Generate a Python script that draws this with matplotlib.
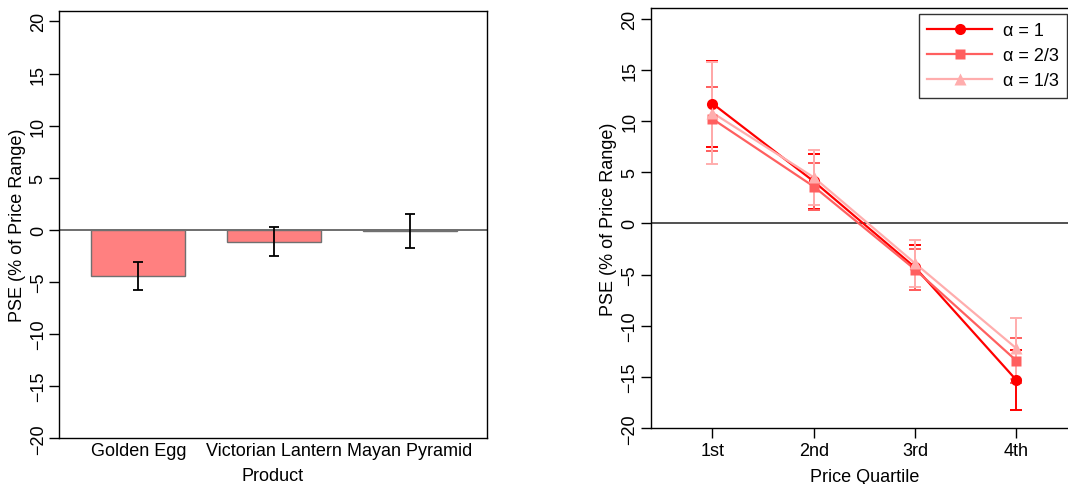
import matplotlib
matplotlib.use("Agg")
import matplotlib.pyplot as plt
import numpy as np

plt.rcParams['font.family'] = ['Liberation Sans', 'DejaVu Sans']
plt.rcParams['font.size'] = 13

# ---- data ----
products = ["Golden Egg", "Victorian Lantern", "Mayan Pyramid"]
product_pse = [-4.4, -1.15, -0.12]
product_err = [1.35, 1.38, 1.65]

quartiles = ["1st", "2nd", "3rd", "4th"]
pse_a1 = [11.7, 4.1, -4.3, -15.3]
err_a1 = [4.2, 2.7, 2.2, 2.9]
pse_a23 = [10.2, 3.6, -4.5, -13.4]
err_a23 = [3.1, 2.3, 2.0, 2.2]
pse_a13 = [10.8, 4.5, -3.9, -12.2]
err_a13 = [5.0, 2.7, 2.3, 2.95]
series_labels = ["\u03b1 = 1", "\u03b1 = 2/3", "\u03b1 = 1/3"]
series_colors = ["#FF0000", "#FF5F5F", "#FFADAD"]
series_markers = ["o", "s", "^"]
series_msize = [8, 7.5, 9]

W, H = 1068, 485
fig = plt.figure(figsize=(W/100, H/100), dpi=100)

def fr(x0, y0, x1, y1):
    return [x0/W, 1 - y1/H, (x1-x0)/W, (y1-y0)/H]

ylabels = [str(v).replace('-', '\u2212') for v in range(-20, 21, 5)]

# ---- left: bar chart ----
ax1 = fig.add_axes(fr(59.3, 12, 486.7, 439.3))
xpos = np.arange(len(products))
ax1.axhline(0, color="#555555", lw=1.2, zorder=1)
ax1.bar(xpos, product_pse, width=0.693, color="#FF8080", edgecolor="#707070",
        linewidth=1.0, zorder=2)
ax1.errorbar(xpos, product_pse, yerr=product_err, fmt="none", ecolor="black",
             elinewidth=1.3, capsize=3.6, capthick=1.3, zorder=3)
ax1.set_xlim(-0.583, 2.569)
ax1.set_ylim(-20, 21)
ax1.set_yticks(np.arange(-20, 21, 5))
ax1.set_yticklabels(ylabels, rotation=90, va="center")
ax1.set_xticks(xpos)
ax1.set_xticklabels(products)
ax1.tick_params(axis="x", length=0, pad=3)
ax1.tick_params(axis="y", length=7, width=1, pad=2)
ax1.set_xlabel("Product", labelpad=5.5)
ax1.set_ylabel("PSE (% of Price Range)", labelpad=3)
for s in ax1.spines.values():
    s.set_linewidth(1.0)

# ---- right: line chart ----
ax2 = fig.add_axes(fr(650.7, 9.3, 1078.2, 429.3))
ax2.axhline(0, color="#333333", lw=1.2, zorder=1)
xq = np.arange(1, len(quartiles) + 1)
series_vals = [pse_a1, pse_a23, pse_a13]
series_errs = [err_a1, err_a23, err_a13]
handles = []
for i, (vals, errs, lab, col, mk, ms) in enumerate(zip(series_vals, series_errs,
        series_labels, series_colors, series_markers, series_msize)):
    ax2.errorbar(xq, vals, yerr=errs, fmt="none", ecolor=col, elinewidth=1.4,
                 capsize=4.3, capthick=1.4, zorder=2 + 0.1*i)
    ax2.plot(xq, vals, color=col, lw=1.6, zorder=3 + 0.1*i)
    ax2.plot(xq, vals, linestyle="none", marker=mk, markersize=ms,
             markerfacecolor=col, markeredgecolor="none", zorder=4 + 0.1*i)
    h, = ax2.plot([], [], color=col, lw=1.6, marker=mk, markersize=ms,
                  markerfacecolor=col, markeredgecolor="none", label=lab)
    handles.append(h)
ax2.set_xlim(0.39, 4.61)
ax2.set_ylim(-20, 21)
ax2.set_yticks(np.arange(-20, 21, 5))
ax2.set_yticklabels(ylabels, rotation=90, va="center")
ax2.set_xticks(xq)
ax2.set_xticklabels(quartiles)
ax2.tick_params(axis="x", length=7, width=1, pad=3)
ax2.tick_params(axis="y", length=7, width=1, pad=2)
ax2.set_xlabel("Price Quartile", labelpad=6)
ax2.set_ylabel("PSE (% of Price Range)", labelpad=3)
for s in ax2.spines.values():
    s.set_linewidth(1.0)

leg = ax2.legend(handles=handles, loc="upper right",
                 bbox_to_anchor=(1067/W, 1 - 15/H), bbox_transform=fig.transFigure,
                 borderaxespad=0, frameon=True, fancybox=False, handlelength=3.6,
                 handletextpad=0.6, borderpad=0.45, labelspacing=0.45)
leg.get_frame().set_edgecolor("black")
leg.get_frame().set_linewidth(1.0)

fig.savefig("out.png", dpi=100)
